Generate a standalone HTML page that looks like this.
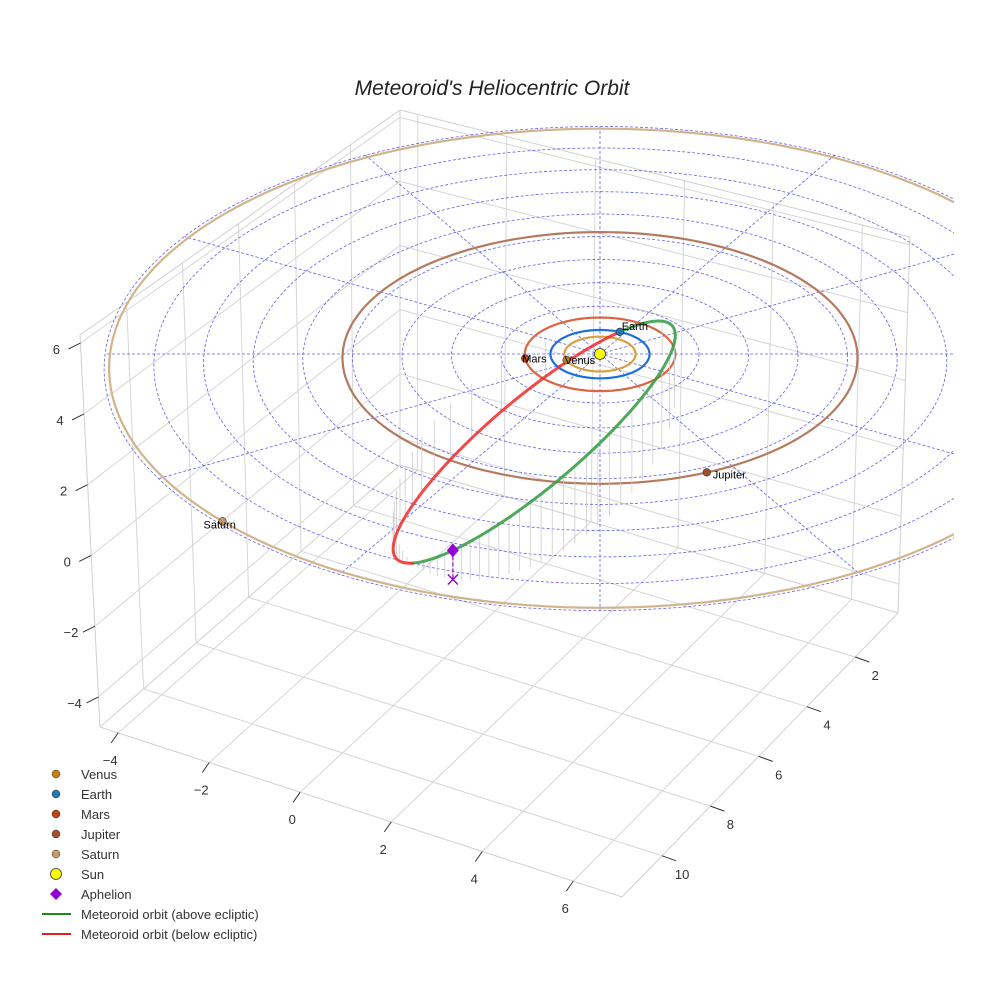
<!DOCTYPE html>
<html><head><meta charset="utf-8">
<style>
html,body{margin:0;padding:0;background:#fff;}
svg{display:block;font-family:"Liberation Sans",sans-serif;}
</style></head>
<body>
<svg id="chart" width="984" height="984" viewBox="0 0 984 984">
<text x="492" y="95" text-anchor="middle" font-size="21" font-style="italic" fill="#222">Meteoroid's Heliocentric Orbit</text>
<defs><clipPath id="axclip"><rect x="0" y="0" width="954" height="984"/></clipPath></defs>
<g id="box"></g>
<g id="eclip" clip-path="url(#axclip)"></g>
<g id="legend"></g>
</svg>
<script>
// ---- data ----
const PLANET_NAMES = ['Venus','Earth','Mars','Jupiter','Saturn'];
const PLANET_RADII = [0.72, 1.0, 1.52, 5.2, 9.9];
const PLANET_ANGLES = [159.5, -66.4, 173, 66.2, 137.8];
const RING_RADII = [1,2,3,4,5,6,7,8,9,10];
const SPOKE_ANGLES = [0,30,60,90,120,150,180,210,240,270,300,330];
const ORBIT_A = 5.16;
const ORBIT_E = 0.807;
const ORBIT_INC = 40;
const ORBIT_NODE = -66.4;
const ORBIT_ARGP = -7.7;
const X_TICKS = [-4,-2,0,2,4,6];
const Y_TICKS = [2,4,6,8,10];
const Z_TICKS = [-4,-2,0,2,4,6];
const X_RANGE = [-4.4, 7.07];
const Y_RANGE = [0.23, 11.66];
const Z_RANGE = [-4.85, 6.23];

const NS = 'http://www.w3.org/2000/svg';
const PLANET_MARK = {Venus:'#c8800e',Earth:'#1f77b4',Mars:'#c1440e',Jupiter:'#a0522d',Saturn:'#c49a6c'};
const PLANET_RING = {Venus:'#d9a040',Earth:'#1f6fd9',Mars:'#dc6440',Jupiter:'#b47a60',Saturn:'#d2b48c'};

function el(tag, attrs, parent){
  const e = document.createElementNS(NS, tag);
  for (const k in attrs) e.setAttribute(k, attrs[k]);
  parent.appendChild(e);
  return e;
}
const box = document.getElementById('box');
const ecl = document.getElementById('eclip');
const leg = document.getElementById('legend');

// ---- axes box (bilinear panes) ----
const FL=[100,727], FR=[622,897], BR=[898,613], BL=[400,465];
const FLt=[80,335], BLt=[400,110], BRt=[910,237];
function bil(A,B,C,D,u,v){ // A(0,0) B(1,0) C(1,1) D(0,1)
  return [(1-u)*(1-v)*A[0]+u*(1-v)*B[0]+u*v*C[0]+(1-u)*v*D[0],
          (1-u)*(1-v)*A[1]+u*(1-v)*B[1]+u*v*C[1]+(1-u)*v*D[1]];
}
const ux = x => (x-X_RANGE[0])/(X_RANGE[1]-X_RANGE[0]);
const vy = y => (Y_RANGE[1]-y)/(Y_RANGE[1]-Y_RANGE[0]);
const wz = z => (z-Z_RANGE[0])/(Z_RANGE[1]-Z_RANGE[0]);
const floorP = (x,y) => bil(FL,FR,BR,BL,ux(x),vy(y));
const leftP = (y,z) => bil(FL,BL,BLt,FLt,vy(y),wz(z));
const backP = (x,z) => bil(BL,BR,BRt,BLt,ux(x),wz(z));
function line(p,q,stroke,w,name,parent){
  const l = el('line',{x1:p[0].toFixed(1),y1:p[1].toFixed(1),x2:q[0].toFixed(1),y2:q[1].toFixed(1),stroke:stroke,'stroke-width':w},parent||box);
  
  
  return l;
}
const GRID='#d6d6d6';
X_TICKS.forEach(x=>{
  line(floorP(x,Y_RANGE[1]), floorP(x,Y_RANGE[0]), GRID, 1, 'floor-grid-x');
  line(backP(x,Z_RANGE[0]), backP(x,Z_RANGE[1]), GRID, 1, 'back-grid-x');
});
Y_TICKS.forEach(y=>{
  line(floorP(X_RANGE[0],y), floorP(X_RANGE[1],y), GRID, 1, 'floor-grid-y');
  line(leftP(y,Z_RANGE[0]), leftP(y,Z_RANGE[1]), GRID, 1, 'left-grid-y');
});
Z_TICKS.forEach(z=>{
  line(leftP(Y_RANGE[1],z), leftP(Y_RANGE[0],z), GRID, 1, 'left-grid-z');
  line(backP(X_RANGE[0],z), backP(X_RANGE[1],z), GRID, 1, 'back-grid-z');
});
[[FL,FR],[FR,BR],[BR,BL],[BL,FL],[FL,FLt],[FLt,BLt],[BLt,BRt],[BRt,BR],[BL,BLt]].forEach(e=>line(e[0],e[1],'#d0d0d0',1,'box-edge'));

// ticks & labels
function label(x,y,txt,name,anchor){
  const t = el('text',{x:x.toFixed(1),y:y.toFixed(1),'font-size':13,fill:'#333','text-anchor':anchor||'middle'},box);
  t.textContent = txt;
  
  
}
const fmt = v => v<0 ? '\u2212'+Math.abs(v) : String(v);
X_TICKS.forEach(x=>{
  const p = floorP(x,Y_RANGE[1]);
  line(p,[p[0]-7,p[1]+10],'#333',1,'x-tick');
  label(p[0]-8,p[1]+32,fmt(x),'x-tick-label');
});
Y_TICKS.forEach(y=>{
  const p = floorP(X_RANGE[1],y);
  line(p,[p[0]+14,p[1]+5],'#333',1,'y-tick');
  label(p[0]+20,p[1]+23,fmt(y),'y-tick-label');
});
Z_TICKS.forEach(z=>{
  const p = leftP(Y_RANGE[1],z);
  line(p,[p[0]-12,p[1]+6],'#333',1,'z-tick');
  label(p[0]-24,p[1]+11,fmt(z),'z-tick-label');
});

// ---- ecliptic projection ----
function proj(X,Y,Z){
  const k = 1 + 0.006*Y;
  return [600 + 49.5*X*k, 354 + (24.2*Y - 34.5*Z)*k];
}
const rad = d => d*Math.PI/180;
function ringPath(R){
  let d='';
  for(let i=0;i<=180;i++){
    const a = i/180*2*Math.PI;
    const p = proj(R*Math.cos(a), R*Math.sin(a), 0);
    d += (i?'L':'M')+p[0].toFixed(1)+' '+p[1].toFixed(1);
  }
  return d+'Z';
}
RING_RADII.forEach(R=>{
  const p = el('path',{d:ringPath(R),fill:'none',stroke:'#3b3be6','stroke-width':0.8,'stroke-dasharray':'3 2',opacity:0.8},ecl);
  
  
});
const RMAX = RING_RADII[RING_RADII.length-1];
SPOKE_ANGLES.forEach(a=>{
  const q = proj(RMAX*Math.cos(rad(a)), RMAX*Math.sin(rad(a)), 0);
  const s = line(proj(0,0,0), q, '#3b3be6', 0.8, 'ecliptic-grid-spoke', ecl);
  s.setAttribute('stroke-dasharray','3 2');
  s.setAttribute('opacity','0.8');
});
PLANET_NAMES.forEach((n,i)=>{
  const p = el('path',{d:ringPath(PLANET_RADII[i]),fill:'none',stroke:PLANET_RING[n],'stroke-width':2.2},ecl);
  
  
});

// ---- meteoroid orbit ----
const cO=Math.cos(rad(ORBIT_NODE)), sO=Math.sin(rad(ORBIT_NODE)), ci=Math.cos(rad(ORBIT_INC)), si=Math.sin(rad(ORBIT_INC));
const P_SEMI = ORBIT_A*(1-ORBIT_E*ORBIT_E);
function orbitPos(nu){
  const r = P_SEMI/(1+ORBIT_E*Math.cos(nu));
  const u = nu + rad(ORBIT_ARGP);
  const cu=Math.cos(u), su=Math.sin(u);
  return [r*(cu*cO + su*ci*(-sO)), r*(cu*sO + su*ci*cO), r*su*si];
}
// stems (uniform in mean anomaly)
const NST = 50;
for(let j=0;j<NST;j++){
  const M = j/NST*2*Math.PI;
  let E = M;
  for(let it=0;it<30;it++) E = E - (E-ORBIT_E*Math.sin(E)-M)/(1-ORBIT_E*Math.cos(E));
  const nu = 2*Math.atan2(Math.sqrt(1+ORBIT_E)*Math.sin(E/2), Math.sqrt(1-ORBIT_E)*Math.cos(E/2));
  const q = orbitPos(nu);
  line(proj(q[0],q[1],q[2]), proj(q[0],q[1],0), '#cccccc', 0.8, 'orbit-stem', ecl);
}
// orbit segments split by sign of z
let seg=[], segSign=null;
function flush(){
  if(seg.length>1){
    const p = el('polyline',{points:seg.map(s=>s[0].toFixed(1)+','+s[1].toFixed(1)).join(' '),fill:'none',
      stroke: segSign>0 ? '#2f9a40' : '#ee2a2a','stroke-width':3,'stroke-linecap':'round',opacity:0.85},ecl);
    
    
  }
}
for(let i=0;i<=720;i++){
  const nu = -Math.PI + i/720*2*Math.PI;
  const q = orbitPos(nu);
  const sg = q[2]>=0?1:-1;
  const pt = proj(q[0],q[1],q[2]);
  if(segSign!==null && sg!==segSign){ seg.push(pt); flush(); seg=[pt]; }
  else seg.push(pt);
  segSign = sg;
}
flush();

// planets
const LABEL_OFF = {Venus:[-2,4],Earth:[2,-2],Mars:[-3,4],Jupiter:[6,6],Saturn:[-19,7]};
PLANET_NAMES.forEach((n,i)=>{
  const a = rad(PLANET_ANGLES[i]);
  const p = proj(PLANET_RADII[i]*Math.cos(a), PLANET_RADII[i]*Math.sin(a), 0);
  const c = el('circle',{cx:p[0].toFixed(1),cy:p[1].toFixed(1),r:3.8,fill:PLANET_MARK[n],stroke:'#333','stroke-width':0.6},ecl);
  
  
  const t = el('text',{x:(p[0]+LABEL_OFF[n][0]).toFixed(1),y:(p[1]+LABEL_OFF[n][1]).toFixed(1),'font-size':11,fill:'#000'},ecl);
  t.textContent = n;
  
  
});
const sp = proj(0,0,0);
const sun = el('circle',{cx:sp[0],cy:sp[1],r:5.5,fill:'#ffff00',stroke:'#333','stroke-width':0.8},ecl);



// aphelion
const ap = orbitPos(Math.PI);
const apP = proj(ap[0],ap[1],ap[2]), apG = proj(ap[0],ap[1],0);
const dl = line(apP, apG, '#9400d3', 1.2, 'aphelion-drop-line', ecl);
dl.setAttribute('stroke-dasharray','4 2');
const xm = el('path',{d:`M${apG[0]-5} ${apG[1]-5}L${apG[0]+5} ${apG[1]+5}M${apG[0]+5} ${apG[1]-5}L${apG[0]-5} ${apG[1]+5}`,stroke:'#9400d3','stroke-width':1.4,fill:'none'},ecl);


const dm = el('path',{d:`M${apP[0]} ${apP[1]-7}L${apP[0]+6} ${apP[1]}L${apP[0]} ${apP[1]+7}L${apP[0]-6} ${apP[1]}Z`,fill:'#9400d3'},ecl);



// ---- legend ----
const LEGEND_LABELS = ['Venus','Earth','Mars','Jupiter','Saturn','Sun','Aphelion','Meteoroid orbit (above ecliptic)','Meteoroid orbit (below ecliptic)'];
LEGEND_LABELS.forEach((lab,i)=>{
  const y = 774 + i*20;
  let m;
  if(i<5) m = el('circle',{cx:56,cy:y,r:4,fill:PLANET_MARK[lab],stroke:'#333','stroke-width':0.5},leg);
  else if(i===5) m = el('circle',{cx:56,cy:y,r:5.5,fill:'#ffff00',stroke:'#333','stroke-width':0.8},leg);
  else if(i===6) m = el('path',{d:`M56 ${y-6}L62 ${y}L56 ${y+6}L50 ${y}Z`,fill:'#9400d3'},leg);
  else m = el('line',{x1:42,y1:y,x2:71,y2:y,stroke:i===7?'#1a8a1a':'#e02020','stroke-width':2},leg);
  
  
  const t = el('text',{x:81,y:y+5,'font-size':13,fill:'#333'},leg);
  t.textContent = lab;
  
  
});
</script>
</body></html>
